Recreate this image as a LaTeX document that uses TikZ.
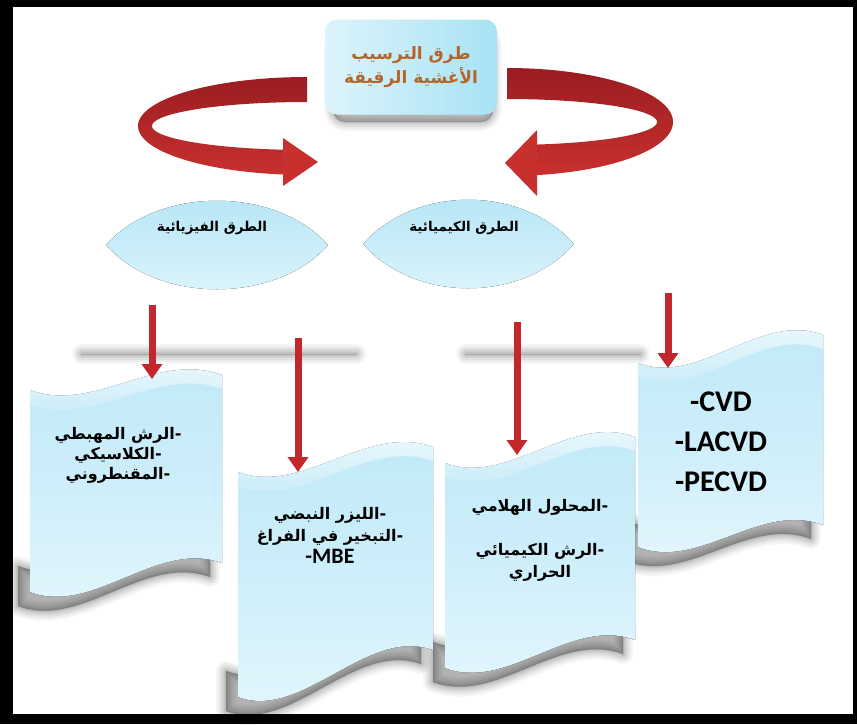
\documentclass[tikz,border=0pt]{standalone}
\usepackage{fontspec}
\usetikzlibrary{arrows.meta,calc}
\TeXXeTstate=1
\newfontfamily\arabicfont[Script=Arabic]{DejaVu Sans}
\newfontfamily\latinfont{Carlito}
\definecolor{ribbonRed}{HTML}{C8302E}
\definecolor{ribbonDark}{HTML}{9A1D21}
\definecolor{shaftRed}{HTML}{C1272D}
\definecolor{paleCyan}{HTML}{C0E9F7}
\definecolor{paleCyanMid}{HTML}{CDEEFA}
\definecolor{paleCyanLight}{HTML}{E4F6FC}
\definecolor{lensTop}{HTML}{B3E5F5}
\definecolor{lensBottom}{HTML}{DFF5FC}
\definecolor{titleLeft}{HTML}{DCF4FB}
\definecolor{titleRight}{HTML}{A8E2F4}
\definecolor{titleText}{HTML}{B5652A}

\tikzset{
  % wavy banner: xL, xR, y top-left, y top-right, y bottom-left, y bottom-right
  wave/.style n args={6}{insert path={
    (#1,#3) .. controls ({#1+0.33*(#2-#1)},{#3+24}) and ({#1+0.66*(#2-#1)},{#4-24}) .. (#2,#4)
    -- (#2,#6) .. controls ({#1+0.66*(#2-#1)},{#6-24}) and ({#1+0.33*(#2-#1)},{#5+24}) .. (#1,#5)
    -- cycle}},
  % light curl along the upper edge of a banner: xL, xR, y top-left, y top-right
  wavetop/.style n args={4}{insert path={
    (#1,#3) .. controls ({#1+0.33*(#2-#1)},{#3+24}) and ({#1+0.66*(#2-#1)},{#4-24}) .. (#2,#4)
    -- (#2,{#4+14}) .. controls ({#1+0.66*(#2-#1)},{#4-10}) and ({#1+0.33*(#2-#1)},{#3+38}) .. (#1,{#3+14})
    -- cycle}},
  % lower strip of a banner, used for its cast shadow: xL, xR, y bottom-left, y bottom-right
  wavefoot/.style n args={4}{insert path={
    (#2,{#4-40}) -- (#2,#4) .. controls ({#1+0.66*(#2-#1)},{#4-24}) and ({#1+0.33*(#2-#1)},{#3+24}) .. (#1,#3)
    -- (#1,{#3-40}) .. controls ({#1+0.33*(#2-#1)},{#3-16}) and ({#1+0.66*(#2-#1)},{#4-64}) .. cycle}},
  softlayer/.style={draw=black, fill=black, line join=round, line cap=round},
  banner/.style={top color=paleCyan, bottom color=paleCyanLight, middle color=paleCyanMid},
  lens/.style={top color=lensTop, bottom color=lensBottom},
  lenslabel/.style={font=\arabicfont\bfseries\fontsize{13.5}{16}\selectfont, text=black},
  bannertext/.style={font=\arabicfont\bfseries\fontsize{16}{20}\selectfont, text=black, align=center},
  latinlines/.style={font=\latinfont\bfseries\fontsize{30}{40}\selectfont, text=black, align=center},
  titlebox/.style={rounded corners=12pt, left color=titleLeft, right color=titleRight,
      minimum width=172pt, minimum height=95pt, align=center, text=titleText,
      font=\arabicfont\bfseries\fontsize{17}{24}\selectfont},
  downarrow/.style={line width=7pt, draw=shaftRed, -{Triangle[width=20pt,length=15pt]}},
}

\begin{document}
\begin{tikzpicture}[x=1pt,y=-1pt]
% page and frame
\fill[black] (0,0) rectangle (857,724);
\fill[white] (13,7) rectangle (853,714);
\useasboundingbox (0,0) rectangle (857,724);

% soft floor shadows behind the upper arrows
\foreach \w/\o in {20/0.035,16/0.04,12/0.05,8/0.06,4/0.07,1/0.08}{
  \draw[softlayer, line width=\w pt, opacity=\o] (82,354) -- (356,354);
  \draw[softlayer, line width=\w pt, opacity=\o] (466,354) -- (640,354);
}

% title box with its shadow
\foreach \w/\o in {18/0.03,14/0.04,10/0.05,6/0.06,2/0.07}
  \draw[softlayer, line width=\w pt, opacity=\o, rounded corners=12pt] (333,34) rectangle (493,122);
\node[titlebox] (title) at (411,67)
  {\beginR طرق الترسيب\endR\\\beginR الأغشية الرقيقة\endR};

% left ribbon arrow (curls round to the physical methods)
\shade[top color=ribbonDark, bottom color=ribbonRed]
  plot[domain=90:261.8,samples=80] ({307+169*cos(\x)},{126-49*sin(\x)})
  -- plot[domain=261.1:90,samples=80] ({307+155*cos(\x)},{126-24*sin(\x)}) -- cycle;
\fill[ribbonRed] (283,138) -- (318,162) -- (283,186) -- cycle;

% right ribbon arrow (curls round to the chemical methods)
\shade[top color=ribbonDark, bottom color=ribbonRed]
  plot[domain=90:-79.6,samples=80] ({507+166*cos(\x)},{122-54*sin(\x)})
  -- plot[domain=-78.5:90,samples=80] ({507+150*cos(\x)},{122-23*sin(\x)}) -- cycle;
\fill[ribbonRed] (537,130) -- (505,163) -- (537,196) -- cycle;

% lens shaped category labels
\fill[lens] (106,245) .. controls (158,186) and (276,186) .. (328,245)
  .. controls (276,304) and (158,304) .. cycle;
\fill[lens] (363,244) .. controls (415,185) and (522,185) .. (574,244)
  .. controls (522,303) and (415,303) .. cycle;
\node[lenslabel] (phys) at (212,228) {\beginR الطرق الفيزيائية\endR};
\node[lenslabel] (chem) at (464,228) {\beginR الطرق الكيميائية\endR};

% banner shadows
\foreach \w/\o in {20/0.035,16/0.04,12/0.05,8/0.06,4/0.07,1/0.08}{
  \begin{scope}[shift={(-12,14)}]
    \draw[softlayer, line width=\w pt, opacity=\o, wavefoot={30}{222}{592}{563}];
    \draw[softlayer, line width=\w pt, opacity=\o, wavefoot={238}{433}{697}{650}];
    \draw[softlayer, line width=\w pt, opacity=\o, wavefoot={445}{635}{668}{640}];
    \draw[softlayer, line width=\w pt, opacity=\o, wavefoot={638}{823}{547}{525}];
  \end{scope}
}

% banners
\fill[banner, wave={30}{222}{390}{375}{592}{563}];
\fill[banner, wave={238}{433}{472}{447}{697}{650}];
\fill[banner, wave={445}{635}{463}{437}{668}{640}];
\fill[banner, wave={638}{823}{363}{335}{547}{525}];
\shade[top color=white, bottom color=paleCyan, opacity=0.8, wavetop={30}{222}{390}{375}];
\shade[top color=white, bottom color=paleCyan, opacity=0.8, wavetop={238}{433}{472}{447}];
\shade[top color=white, bottom color=paleCyan, opacity=0.8, wavetop={445}{635}{463}{437}];
\shade[top color=white, bottom color=paleCyan, opacity=0.8, wavetop={638}{823}{363}{335}];

% banner texts
\node[bannertext] (s1) at (118,455)
  {\beginR الرش المهبطي\endR-\\\beginR الكلاسيكي\endR-\\\beginR المقنطروني\endR-};
\node[bannertext, font=\arabicfont\bfseries\fontsize{16}{22}\selectfont] (s2) at (330,535)
  {\beginR الليزر النبضي\endR-\\\beginR التبخير في الفراغ\endR-\\
   {\latinfont\bfseries\fontsize{22}{22}\selectfont -MBE}};
\node[bannertext, font=\arabicfont\bfseries\fontsize{16}{22}\selectfont] (s3) at (540,540)
  {\beginR المحلول الهلامي\endR-\\[22pt]\beginR الرش الكيميائي\endR-\\\beginR الحراري\endR};
\node[latinlines] (s4) at (721,442) {-CVD\\-LACVD\\-PECVD};

% connectors from the categories down to the banners
\coordinate (a1s) at (152,305); \coordinate (a1e) at (152,379);
\coordinate (a2s) at (298,338); \coordinate (a2e) at (298,472);
\coordinate (a3s) at (517,322); \coordinate (a3e) at (517,455);
\coordinate (a4s) at (668,293); \coordinate (a4e) at (668,368);
\draw[downarrow] (a1s) -- (a1e);
\draw[downarrow] (a2s) -- (a2e);
\draw[downarrow] (a3s) -- (a3e);
\draw[downarrow] (a4s) -- (a4e);
\end{tikzpicture}
\end{document}
